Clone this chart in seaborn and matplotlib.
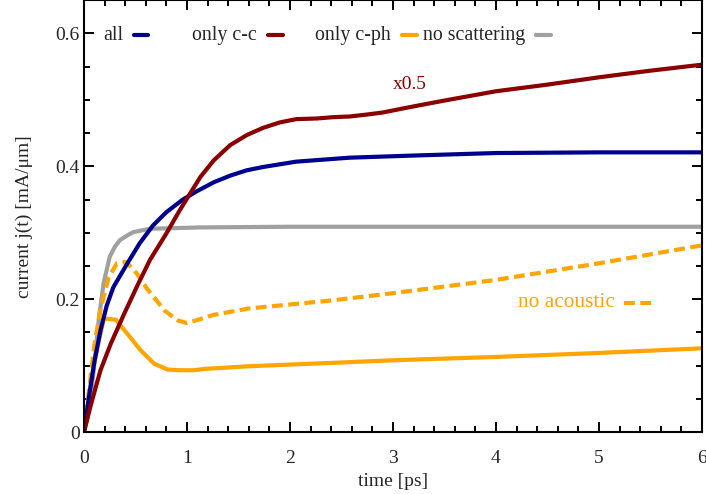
import matplotlib
matplotlib.use("Agg")
import matplotlib.pyplot as plt
import seaborn as sns
from matplotlib.lines import Line2D
from matplotlib.ticker import MultipleLocator, FormatStrFormatter

sns.set_theme(style="ticks")
plt.rcParams['font.family'] = ['Liberation Serif', 'DejaVu Serif']

# ---- data ----
t_all = [0, 0.05, 0.1, 0.16, 0.22, 0.285, 0.41, 0.54, 0.67, 0.80, 0.96, 1.09, 1.26, 1.42, 1.58, 1.74, 2.06, 2.58, 3.16, 4, 5, 6]
j_all = [0, 0.055, 0.105, 0.153, 0.19, 0.218, 0.251, 0.284, 0.311, 0.331, 0.350, 0.362, 0.376, 0.386, 0.394, 0.399, 0.407, 0.413, 0.416, 0.420, 0.421, 0.421]

t_cc = [0, 0.065, 0.16, 0.26, 0.39, 0.52, 0.64, 0.80, 0.93, 1.05, 1.13, 1.26, 1.42, 1.58, 1.74, 1.90, 2.06, 2.26, 2.42, 2.58, 2.75, 2.9, 3.16, 3.5, 4, 4.5, 5, 5.5, 6]
j_cc = [0, 0.04, 0.093, 0.133, 0.178, 0.221, 0.259, 0.299, 0.334, 0.364, 0.384, 0.409, 0.432, 0.447, 0.458, 0.466, 0.471, 0.472, 0.474, 0.475, 0.478, 0.481, 0.489, 0.499, 0.513, 0.523, 0.534, 0.544, 0.553]

t_cph = [0, 0.05, 0.097, 0.146, 0.194, 0.31, 0.42, 0.55, 0.68, 0.81, 0.94, 1.07, 1.17, 1.6, 2.4, 3, 4, 5, 6]
j_cph = [0, 0.055, 0.103, 0.138, 0.171, 0.169, 0.148, 0.123, 0.103, 0.094, 0.093, 0.093, 0.095, 0.099, 0.104, 0.108, 0.113, 0.119, 0.126]

t_noac = [0, 0.05, 0.1, 0.16, 0.24, 0.32, 0.41, 0.51, 0.61, 0.71, 0.78, 0.91, 1.0, 1.13, 1.25, 1.6, 2.4, 3, 4, 5, 6]
j_noac = [0, 0.065, 0.13, 0.185, 0.233, 0.254, 0.256, 0.239, 0.216, 0.197, 0.183, 0.168, 0.164, 0.170, 0.176, 0.186, 0.198, 0.209, 0.229, 0.254, 0.281]

t_nosc = [0, 0.03, 0.065, 0.097, 0.146, 0.19, 0.25, 0.30, 0.35, 0.42, 0.48, 0.64, 1.13, 2, 3, 4, 5, 6]
j_nosc = [0, 0.02, 0.05, 0.098, 0.173, 0.224, 0.264, 0.279, 0.289, 0.296, 0.301, 0.306, 0.308, 0.309, 0.309, 0.309, 0.309, 0.309]

legend_labels = ["all", "only c-c", "only c-ph", "no scattering"]
C_BLUE = "#00008f"
C_RED = "#8b0000"
C_ORANGE = "#ffa500"
C_GRAY = "#a0a0a0"
colors = [C_BLUE, C_RED, C_ORANGE, C_GRAY]

fig = plt.figure(figsize=(7.06, 4.94), dpi=100)
ax = fig.add_axes([0.119, 0.1255, 0.8753, 0.874])

lw = 3.0
dash = (0, (2.6, 1.3))
sns.lineplot(x=t_nosc, y=j_nosc, color=C_GRAY, linewidth=lw, ax=ax)
sns.lineplot(x=t_cph, y=j_cph, color=C_ORANGE, linewidth=lw, ax=ax)
sns.lineplot(x=t_noac, y=j_noac, color=C_ORANGE, linewidth=lw, linestyle=dash, ax=ax)
sns.lineplot(x=t_all, y=j_all, color=C_BLUE, linewidth=lw, ax=ax)
sns.lineplot(x=t_cc, y=j_cc, color=C_RED, linewidth=lw, ax=ax)

ax.set_xlim(0, 6)
ax.set_ylim(0, 0.65)
ax.xaxis.set_major_locator(MultipleLocator(1))
ax.xaxis.set_minor_locator(MultipleLocator(0.2))
ax.yaxis.set_major_locator(MultipleLocator(0.2))
ax.yaxis.set_minor_locator(MultipleLocator(0.05))
ax.yaxis.set_major_formatter(FormatStrFormatter('%g'))
ax.tick_params(which='both', direction='in', top=True, right=True, labelsize=14, width=1.4, color='black')
ax.tick_params(axis='x', which='major', pad=13)
ax.tick_params(axis='y', which='major', pad=3)
ax.tick_params(which='major', length=7)
ax.tick_params(which='minor', length=4)
for s in ax.spines.values():
    s.set_linewidth(1.5)
    s.set_color('black')

ax.set_xlabel("time [ps]", fontsize=14, labelpad=4)
ax.set_ylabel("current j(t) [mA/μm]", fontsize=14, labelpad=16)

# top key (gnuplot style: text then sample line)
key_y = 0.919
key_text_right = [0.063, 0.280, 0.497, 0.714]
key_line = [(0.081, 0.104), (0.298, 0.322), (0.515, 0.539), (0.731, 0.756)]
for lab, c, xr, (x0, x1) in zip(legend_labels, colors, key_text_right, key_line):
    ax.text(xr, key_y, lab, transform=ax.transAxes, ha='right', va='center', fontsize=14.3)
    ax.add_line(Line2D([x0, x1], [key_y, key_y], transform=ax.transAxes, color=c, linewidth=lw))

ax.text(0.859, 0.299, "no acoustic", transform=ax.transAxes, ha='right', va='center', fontsize=15.4, color=C_ORANGE)
ax.add_line(Line2D([0.874, 0.922], [0.299, 0.299], transform=ax.transAxes, color=C_ORANGE,
                   linewidth=lw, linestyle=dash))

ax.text(0.527, 0.805, "x0.5", transform=ax.transAxes, ha='center', va='center', fontsize=14, color=C_RED)

fig.savefig("out.png", dpi=100)
